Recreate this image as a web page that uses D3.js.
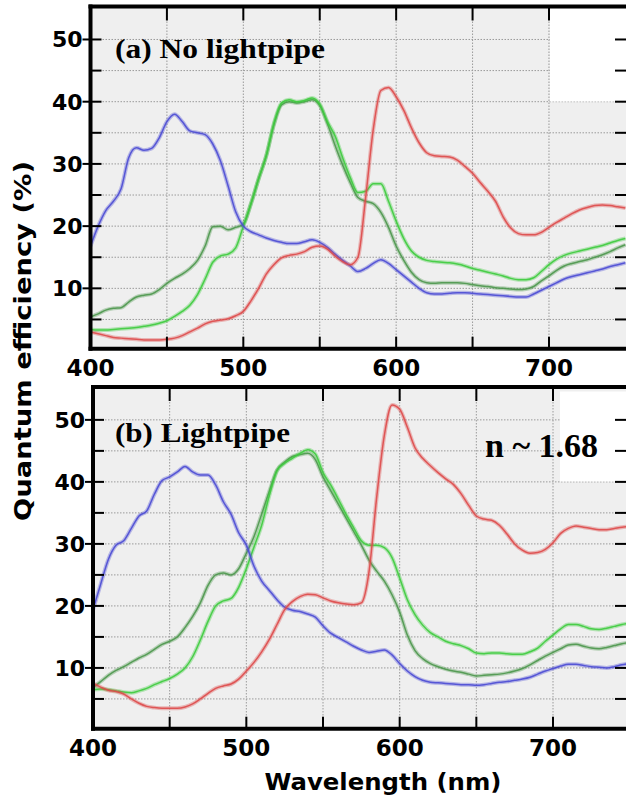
<!DOCTYPE html>
<html>
<head>
<meta charset="utf-8">
<script src="https://cdn.jsdelivr.net/npm/d3@7"></script>
<style>
  body { margin: 0; background: #fff; }
  svg { display: block; }
</style>
</head>
<body>
<div id="chart"></div>
<script>
// wavelength grid (nm), shared by every curve
const wavelengths = [
  400, 405, 410, 415, 420, 425, 430, 435, 440, 445,
  450, 455, 460, 465, 470, 475, 480, 485, 490, 495,
  500, 505, 510, 515, 520, 525, 530, 535, 540, 545,
  550, 555, 560, 565, 570, 575, 580, 585, 590, 595,
  600, 605, 610, 615, 620, 625, 630, 635, 640, 645,
  650, 655, 660, 665, 670, 675, 680, 685, 690, 695,
  700, 705, 710, 715, 720, 725, 730, 735, 740, 745, 750
];

// (a) No lightpipe -- quantum efficiency (%)
const blueA = [
  16.8, 20.0, 22.5, 24.0, 26.0, 31.0, 32.6, 32.2, 32.5, 34.2,
  36.8, 38.0, 36.8, 35.3, 35.0, 34.7, 33.2, 30.5, 26.5, 22.3,
  20.0, 19.1, 18.6, 18.1, 17.7, 17.4, 17.2, 17.2, 17.5, 17.8,
  17.4, 16.6, 15.5, 14.5, 13.6, 12.7, 13.2, 14.0, 14.6, 14.0,
  13.0, 12.0, 11.0, 10.0, 9.3, 9.1, 9.1, 9.2, 9.3, 9.3,
  9.2, 9.1, 9.0, 8.9, 8.8, 8.7, 8.6, 8.6, 9.1, 9.7,
  10.3, 10.9, 11.5, 11.9, 12.2, 12.5, 12.8, 13.1, 13.5, 13.8, 14.1
];
const greenA = [
  3.4, 3.3, 3.3, 3.4, 3.5, 3.6, 3.7, 3.9, 4.1, 4.4,
  4.8, 5.5, 6.3, 7.3, 9.0, 11.5, 14.2, 15.2, 15.5, 16.5,
  20.0, 23.6, 27.6, 31.3, 36.5, 39.8, 40.3, 40.0, 40.2, 40.6,
  39.6, 36.8, 34.5, 31.0, 27.8, 25.4, 25.6, 26.8, 26.8, 24.0,
  20.8, 18.0, 16.0, 15.0, 14.5, 14.3, 14.2, 14.1, 13.9, 13.6,
  13.2, 12.9, 12.6, 12.3, 12.0, 11.6, 11.4, 11.4, 11.7, 12.7,
  13.8, 14.7, 15.3, 15.7, 16.0, 16.3, 16.6, 16.9, 17.3, 17.7, 18.0
];
const darkGreenA = [
  5.4, 5.9, 6.5, 6.8, 6.9, 7.8, 8.6, 8.9, 9.1, 9.8,
  10.8, 11.6, 12.3, 13.2, 14.5, 16.8, 19.9, 20.0, 19.4, 19.8,
  20.3, 23.6, 27.6, 31.3, 36.3, 39.5, 40.0, 39.8, 40.0, 40.3,
  39.4, 36.5, 33.0, 29.8, 27.0, 24.6, 24.0, 23.6, 22.2, 19.8,
  16.8, 14.5, 12.6, 11.4, 10.9, 10.8, 10.9, 10.9, 10.9, 10.8,
  10.6, 10.4, 10.3, 10.1, 10.0, 9.9, 9.8, 9.9, 10.3, 11.2,
  12.0, 12.9, 13.6, 14.0, 14.3, 14.6, 15.0, 15.4, 15.9, 16.5, 17.0
];
const redA = [
  3.0, 2.7, 2.4, 2.1, 2.0, 1.9, 1.8, 1.7, 1.7, 1.7,
  1.8, 2.0, 2.4, 3.0, 3.6, 4.3, 4.7, 4.9, 5.1, 5.6,
  6.3, 8.0, 10.0, 12.3, 13.8, 14.9, 15.3, 15.5, 15.9, 16.6,
  16.8, 16.3, 15.2, 14.3, 13.8, 15.0, 24.5, 35.5, 41.8, 42.3,
  40.8, 38.6, 35.8, 33.4, 31.8, 31.3, 31.2, 31.1, 30.6, 29.6,
  28.5, 27.0, 25.6, 24.0, 21.5, 19.7, 18.8, 18.6, 18.6, 19.0,
  19.8, 20.6, 21.3, 22.0, 22.6, 23.0, 23.3, 23.4, 23.3, 23.1, 22.9
];

// (b) Lightpipe -- quantum efficiency (%)
const blueB = [
  19.4, 23.5, 27.5, 29.8, 30.5, 32.5, 34.5, 35.3, 38.0, 40.2,
  40.8, 41.6, 42.5, 41.6, 41.1, 41.1, 39.5, 36.8, 34.8, 31.8,
  29.8, 26.4, 24.0, 22.5, 21.0, 19.8, 19.3, 19.1, 18.7, 18.2,
  16.8, 15.6, 14.9, 14.2, 13.5, 12.9, 12.5, 12.7, 12.9, 12.1,
  10.7, 9.5, 8.6, 8.0, 7.7, 7.6, 7.5, 7.4, 7.3, 7.3,
  7.2, 7.3, 7.5, 7.7, 7.8, 8.0, 8.2, 8.5, 9.0, 9.5,
  9.9, 10.3, 10.6, 10.6, 10.4, 10.2, 10.1, 10.0, 10.2, 10.5, 10.7
];
const greenB = [
  6.5, 6.6, 6.5, 6.3, 6.1, 6.0, 6.3, 6.7, 7.3, 7.8,
  8.3, 9.0, 10.0, 11.8, 14.5, 17.5, 20.0, 20.8, 21.2, 23.0,
  26.0, 29.5, 33.0, 37.8, 41.8, 43.0, 43.8, 44.6, 45.2, 44.5,
  41.5, 39.5, 37.2, 34.8, 32.6, 30.5, 29.8, 29.8, 29.4, 27.8,
  24.5, 21.0, 18.6, 16.9, 15.7, 15.0, 14.3, 13.9, 13.6, 13.1,
  12.4, 12.3, 12.4, 12.4, 12.3, 12.2, 12.2, 12.6, 13.2, 14.3,
  15.3, 16.3, 17.0, 17.0, 16.7, 16.3, 16.2, 16.4, 16.7, 17.0, 17.2
];
const darkGreenB = [
  6.8, 7.8, 8.8, 9.6, 10.2, 10.9, 11.6, 12.2, 13.0, 13.8,
  14.3, 15.0, 16.5, 18.3, 20.5, 23.3, 25.0, 25.3, 25.0, 26.0,
  28.5, 31.2, 34.8, 38.5, 41.9, 43.2, 44.1, 44.4, 44.6, 43.6,
  40.8, 38.6, 36.4, 34.2, 32.0, 29.8, 27.4, 25.6, 24.0, 21.8,
  19.0, 15.3, 12.8, 11.5, 10.7, 10.2, 9.8, 9.5, 9.3, 9.0,
  8.7, 8.8, 8.9, 9.0, 9.2, 9.5, 9.9, 10.5, 11.2, 11.9,
  12.5, 13.1, 13.7, 13.8, 13.5, 13.2, 13.1, 13.3, 13.6, 13.9, 14.1
];
const redB = [
  7.5, 6.9, 6.4, 6.2, 5.8, 5.0, 4.3, 3.8, 3.6, 3.5,
  3.5, 3.5, 3.7, 4.2, 5.0, 5.9, 6.7, 7.1, 7.4, 8.2,
  9.5, 10.9, 12.6, 14.6, 17.0, 19.4, 20.7, 21.5, 21.9, 21.8,
  21.3, 20.8, 20.5, 20.3, 20.2, 20.5, 25.5, 37.5, 47.5, 52.4,
  51.7, 48.8, 45.5, 43.8, 42.6, 41.5, 40.5, 39.6, 38.1, 36.2,
  34.5, 34.0, 33.8, 33.0, 31.6, 30.0, 29.0, 28.5, 28.6, 29.1,
  30.2, 31.7, 32.5, 32.9, 32.7, 32.5, 32.3, 32.3, 32.5, 32.7, 32.8
];

const xTickLabels = [400, 500, 600, 700];
const xTicks = [450, 500, 550, 600, 650, 700];
const yTickLabels = [10, 20, 30, 40, 50];
const yTicks = [5, 10, 15, 20, 25, 30, 35, 40, 45, 50];

const colors = {
  blue: "#4b4bd4",
  green: "#3ecc3e",
  darkGreen: "#4c974c",
  red: "#de4a4a"
};

const W = 626, H = 800;
const svg = d3.select("#chart").append("svg")
    .attr("width", W)
    .attr("height", H);

const panels = [
  {
    id: "a", title: "(a) No lightpipe", titleWidth: 210, note: null,
    left: 90.5, right: 626, top: 6.5, bottom: 348.7,
    xEnd: 750.4, yMin: 0.3, yMax: 55.3,
    box: {x: 550, y: 8.5, w: 76, h: 93},
    titleY: 58,
    series: [
      {values: darkGreenA, color: colors.darkGreen},
      {values: greenA, color: colors.green},
      {values: blueA, color: colors.blue},
      {values: redA, color: colors.red}
    ]
  },
  {
    id: "b", title: "(b) Lightpipe", titleWidth: 175, note: "n ~ 1.68",
    left: 93, right: 626, top: 387, bottom: 728.7,
    xEnd: 747.6, yMin: 0.2, yMax: 55.3,
    box: {x: 560, y: 391.5, w: 66, h: 90},
    titleY: 442,
    series: [
      {values: darkGreenB, color: colors.darkGreen},
      {values: greenB, color: colors.green},
      {values: blueB, color: colors.blue},
      {values: redB, color: colors.red}
    ]
  }
];

const tickFont = "'DejaVu Sans', Verdana, sans-serif";
const serifFont = "'Liberation Serif', 'Times New Roman', serif";

panels.forEach(function(p) {
  var x = d3.scaleLinear().domain([400, p.xEnd]).range([p.left, p.right]);
  var y = d3.scaleLinear().domain([p.yMin, p.yMax]).range([p.bottom, p.top]);

  var g = svg.append("g");

  g.append("clipPath").attr("id", "clip-" + p.id)
    .append("rect")
    .attr("x", p.left).attr("y", p.top)
    .attr("width", p.right - p.left).attr("height", p.bottom - p.top);

  // plot background
  g.append("rect")
    .attr("x", p.left).attr("y", p.top)
    .attr("width", p.right - p.left).attr("height", p.bottom - p.top)
    .attr("fill", "#efefef");

  // dotted grid
  g.append("g").selectAll("line").data(yTicks).join("line")
    .attr("x1", p.left).attr("x2", p.right)
    .attr("y1", d => y(d)).attr("y2", d => y(d))
    .attr("stroke", "#9a9a9a").attr("stroke-width", 1)
    .attr("stroke-dasharray", "1.5,1.5");
  g.append("g").selectAll("line").data(xTicks).join("line")
    .attr("x1", d => x(d)).attr("x2", d => x(d))
    .attr("y1", p.top).attr("y2", p.bottom)
    .attr("stroke", "#9a9a9a").attr("stroke-width", 1)
    .attr("stroke-dasharray", "1.5,1.5");

  // curves: a soft wide stroke under a thin one gives the doubled look
  var line = d3.line()
      .x((d, i) => x(wavelengths[i]))
      .y(d => y(d))
      .curve(d3.curveMonotoneX);

  var curves = g.append("g").attr("clip-path", "url(#clip-" + p.id + ")");
  p.series.forEach(function(s) {
    curves.append("path")
      .attr("fill", "none")
      .attr("stroke", s.color)
      .attr("stroke-opacity", 0.35)
      .attr("stroke-width", 4)
      .attr("stroke-linejoin", "round")
      .attr("d", line(s.values));
    curves.append("path")
      .attr("fill", "none")
      .attr("stroke", s.color)
      .attr("stroke-opacity", 0.9)
      .attr("stroke-width", 1.5)
      .attr("stroke-linejoin", "round")
      .attr("d", line(s.values));
  });

  // white box in the upper right corner
  g.append("rect")
    .attr("x", p.box.x).attr("y", p.box.y)
    .attr("width", p.box.w).attr("height", p.box.h)
    .attr("fill", "#fff");

  // tick marks
  var ticks = g.append("g").attr("stroke", "#000").attr("stroke-width", 2);
  ticks.selectAll(".tt").data(xTicks).join("line")
    .attr("x1", d => x(d)).attr("x2", d => x(d))
    .attr("y1", p.top).attr("y2", p.top + 14);
  ticks.selectAll(".tb").data(xTicks).join("line")
    .attr("x1", d => x(d)).attr("x2", d => x(d))
    .attr("y1", p.bottom).attr("y2", p.bottom - 12);
  ticks.selectAll(".tl").data(yTicks).join("line")
    .attr("x1", d => yTickLabels.includes(d) ? p.left - 8 : p.left)
    .attr("x2", p.left + 11)
    .attr("y1", d => y(d)).attr("y2", d => y(d));
  ticks.selectAll(".tr").data(yTicks).join("line")
    .attr("x1", p.right - 11).attr("x2", p.right)
    .attr("y1", d => y(d)).attr("y2", d => y(d));

  // frame: left, bottom, top
  var frame = g.append("g").attr("stroke", "#000").attr("stroke-width", 4)
      .attr("stroke-linecap", "square");
  frame.append("line").attr("x1", p.left).attr("x2", p.left)
    .attr("y1", p.top).attr("y2", p.bottom);
  frame.append("line").attr("x1", p.left).attr("x2", p.right + 2)
    .attr("y1", p.bottom).attr("y2", p.bottom);
  frame.append("line").attr("x1", p.left).attr("x2", p.right + 2)
    .attr("y1", p.top).attr("y2", p.top);

  // tick labels
  g.append("g").selectAll("text").data(yTickLabels).join("text")
    .attr("x", p.left - 8)
    .attr("y", d => y(d) + 8)
    .attr("text-anchor", "end")
    .attr("font-family", tickFont).attr("font-weight", "bold")
    .attr("font-size", 22)
    .text(d => d);
  g.append("g").selectAll("text").data(xTickLabels).join("text")
    .attr("x", d => x(d))
    .attr("y", p.bottom + 27)
    .attr("text-anchor", "middle")
    .attr("font-family", tickFont).attr("font-weight", "bold")
    .attr("font-size", 23)
    .text(d => d);

  // panel title
  g.append("text")
    .attr("x", 115).attr("y", p.titleY)
    .attr("font-family", serifFont)
    .attr("font-weight", "bold").attr("font-size", 28)
    .attr("textLength", p.titleWidth).attr("lengthAdjust", "spacingAndGlyphs")
    .text(p.title);

  if (p.note) {
    g.append("text")
      .attr("x", 485).attr("y", 457)
      .attr("font-family", serifFont)
      .attr("font-weight", "bold").attr("font-size", 34)
      .text(p.note);
  }
});

// axis titles
svg.append("text")
  .attr("transform", "translate(31,341) rotate(-90)")
  .attr("text-anchor", "middle")
  .attr("font-family", tickFont).attr("font-weight", "bold")
  .attr("font-size", 23)
  .attr("textLength", 360).attr("lengthAdjust", "spacingAndGlyphs")
  .text("Quantum efficiency (%)");

svg.append("text")
  .attr("x", 383).attr("y", 790)
  .attr("text-anchor", "middle")
  .attr("font-family", tickFont).attr("font-weight", "bold")
  .attr("font-size", 23)
  .attr("textLength", 237).attr("lengthAdjust", "spacingAndGlyphs")
  .text("Wavelength (nm)");
</script>
</body>
</html>
